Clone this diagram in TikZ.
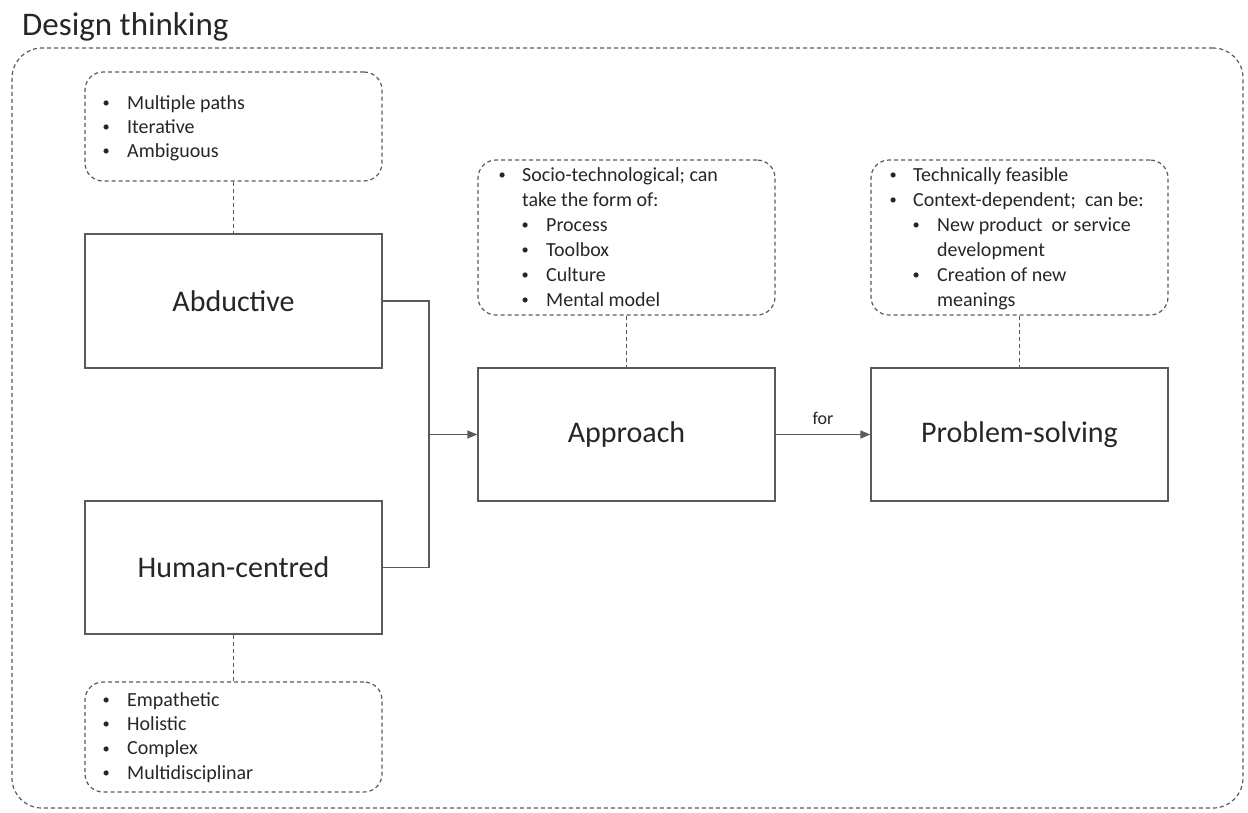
\documentclass[tikz,border=0pt]{standalone}
\usepackage{fontspec}
\setmainfont{Carlito}
\usetikzlibrary{arrows.meta}
\definecolor{linec}{HTML}{5A5A5A}
\definecolor{txtc}{HTML}{262626}
\newcommand{\dotb}{\makebox[0pt]{\raisebox{1.6pt}{\scalebox{0.72}{\textbullet}}}}
\newcommand{\bl}[1]{\dotb\hspace*{21pt}#1}
\newcommand{\br}[1]{\dotb\hspace*{20pt}#1}
\newcommand{\brc}[1]{\hspace*{20pt}#1}
\newcommand{\brr}[1]{\hspace*{23pt}\dotb\hspace*{21pt}#1}
\begin{document}
\begin{tikzpicture}[x=1pt,y=-1pt,
  box/.style={draw=linec, line width=1.4pt, minimum width=297pt, inner sep=0pt,
    font=\fontsize{30}{36}\selectfont, text=txtc},
  dbox/.style={draw=linec, line width=1.2pt, dash pattern=on 4pt off 3pt,
    rounded corners=18pt, inner sep=0pt},
  dline/.style={draw=linec, line width=1.2pt, dash pattern=on 4pt off 3pt},
  sline/.style={draw=linec, line width=1.4pt},
  arr/.style={draw=linec, line width=1.4pt, -{Triangle[length=10pt,width=8pt]}},
  lst/.style={anchor=base west, inner sep=0pt, align=left, text=txtc},
]
\useasboundingbox (0,0) rectangle (1248,812);
\node[anchor=base west, inner sep=0pt, font=\fontsize{33}{40}\selectfont, text=txtc] (title) at (22,35) {Design thinking};
\node[dbox, rounded corners=30pt, minimum width=1231pt, minimum height=760pt] (outer) at (627.5,428) {};

\node[box, minimum height=134pt] (abd) at (233.5,301) {Abductive};
\node[box, minimum height=133pt] (hum) at (233.5,567.5) {Human-centred};
\node[box, minimum height=133pt] (app) at (626.5,434.5) {Approach};
\node[box, minimum height=133pt] (ps) at (1019.5,434.5) {Problem-solving};

\node[dbox, minimum width=297pt, minimum height=109pt] (tld) at (233.5,126.5) {};
\node[dbox, minimum width=297pt, minimum height=110pt] (bld) at (233.5,737) {};
\node[dbox, minimum width=297pt, minimum height=155pt] (apd) at (626.5,237.5) {};
\node[dbox, minimum width=297pt, minimum height=155pt] (psd) at (1019.5,237.5) {};

\node[lst, font=\fontsize{20}{24}\selectfont] (tll) at (106,157)
  {\bl{Multiple paths}\\\bl{Iterative}\\\bl{Ambiguous}};
\node[lst, font=\fontsize{20}{24.3}\selectfont] (bll) at (106,779)
  {\bl{Empathetic}\\\bl{Holistic}\\\bl{Complex}\\\bl{Multidisciplinar}};
\node[lst, font=\fontsize{20}{25}\selectfont] (apl) at (502,306)
  {\br{Socio-technological; can}\\\brc{take the form of:}\\\brr{Process}\\\brr{Toolbox}\\\brr{Culture}\\\brr{Mental model}};
\node[lst, font=\fontsize{20}{25}\selectfont] (psl) at (893,306)
  {\br{Technically feasible}\\\br{Context-dependent;\ \ can be:}\\\brr{New product\ \ or service}\\\brc{\hspace*{24pt}development}\\\brr{Creation of new}\\\brc{\hspace*{24pt}meanings}};

\draw[dline] (tld.south) -- (abd.north);
\draw[dline] (hum.south) -- (bld.north);
\draw[dline] (apd.south) -- (app.north);
\draw[dline] (psd.south) -- (ps.north);

\coordinate (j) at (429,434.5);
\draw[sline] (abd.east) -| (j);
\draw[sline] (hum.east) -| (j);
\draw[arr] (j) -- (app.west);
\draw[arr] (app.east) -- node[above=9pt, inner sep=0pt, font=\fontsize{18}{20}\selectfont, text=txtc] (forl) {for} (ps.west);
\end{tikzpicture}
\end{document}
